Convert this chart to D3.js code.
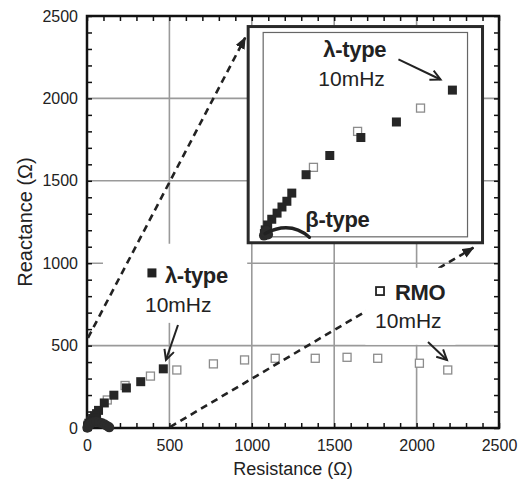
<!DOCTYPE html>
<html>
<head>
<meta charset="utf-8">
<script src="https://cdn.jsdelivr.net/npm/d3@7"></script>
<style>
  body { margin: 0; background: #fff; }
  text { font-family: "Liberation Sans", Arial, sans-serif; fill: #222; }
</style>
</head>
<body>
<div id="container"></div>
<script>
/* CONSTANTS AND GLOBALS */
const width = 522,
  height = 481,
  margin = { top: 16, bottom: 53, left: 87, right: 23 };

// λ-type, filled squares (Resistance, Reactance in Ω)
const lambdaR = [463, 326, 239, 163, 105, 70, 58, 46, 34, 21, 11, 5, 3];
const lambdaX = [359, 281, 243, 199, 152, 107, 87, 73, 58, 43, 29, 17, 8];

// RMO, open squares
const rmoR = [123, 231, 385, 545, 767, 956, 1142, 1385, 1578, 1764, 2017, 2189];
const rmoX = [170, 258, 315, 352, 389, 413, 423, 423, 429, 423, 393, 352];

// β-type, filled circles (main plot and as seen in the inset)
const betaR = [2, 8, 16, 28, 42, 58, 75, 92, 108, 122, 135];
const betaX = [2, 12, 22, 30, 35, 36, 34, 29, 21, 12, 4];
const betaInsetR = [2, 5, 8, 12];
const betaInsetX = [3, 10, 14, 6];

// axis ticks
const majorTicks = [0, 500, 1000, 1500, 2000, 2500];
const gridTicks = [500, 1000, 1500, 2000];
const minorTicks = d3.range(0, 2501, 100);

// inset window, in main plot units: [R0, R1, X0, X1]
const insetOuter = [978, 2400, 1124, 2436];
const insetInner = [1069, 2309, 1160, 2400];
const insetDomain = [0, 500];

let svg, xScale, yScale, ixScale, iyScale;

init();

function init() {
  // + SCALES
  xScale = d3.scaleLinear().domain([0, 2500]).range([margin.left, width - margin.right]);
  yScale = d3.scaleLinear().domain([0, 2500]).range([height - margin.bottom, margin.top]);
  ixScale = d3.scaleLinear().domain(insetDomain).range([xScale(insetInner[0]), xScale(insetInner[1])]);
  iyScale = d3.scaleLinear().domain(insetDomain).range([yScale(insetInner[2]), yScale(insetInner[3])]);

  svg = d3.select("#container")
    .append("svg")
    .attr("width", width)
    .attr("height", height);

  const defs = svg.append("defs");
  defs.append("marker")
    .attr("id", "headFill")
    .attr("markerUnits", "userSpaceOnUse")
    .attr("markerWidth", 12).attr("markerHeight", 10)
    .attr("refX", 11).attr("refY", 5)
    .attr("orient", "auto")
    .append("path").attr("d", "M0,0 L12,5 L0,10 Z").attr("fill", "#222");
  defs.append("marker")
    .attr("id", "headOpen")
    .attr("markerUnits", "userSpaceOnUse")
    .attr("markerWidth", 14).attr("markerHeight", 14)
    .attr("refX", 11).attr("refY", 6)
    .attr("orient", "auto")
    .append("path").attr("d", "M1,1 L11,6 L1,11").attr("fill", "none")
    .attr("stroke", "#222").attr("stroke-width", 2);

  draw();
}

function draw() {
  const x0 = xScale(0), x1 = xScale(2500), y0 = yScale(0), y1 = yScale(2500);

  // + GRID
  svg.append("g").selectAll("line.v")
    .data(gridTicks).join("line")
    .attr("x1", d => xScale(d)).attr("x2", d => xScale(d))
    .attr("y1", y0).attr("y2", y1)
    .attr("stroke", "#9a9a9a").attr("stroke-width", 1.6);
  svg.append("g").selectAll("line.h")
    .data(gridTicks).join("line")
    .attr("x1", x0).attr("x2", x1)
    .attr("y1", d => yScale(d)).attr("y2", d => yScale(d))
    .attr("stroke", "#9a9a9a").attr("stroke-width", 1.6);

  // + MINOR TICKS (inward, all four sides)
  const tickSide = (axis, transform) => {
    svg.append("g")
      .attr("transform", transform)
      .call(axis.tickValues(minorTicks).tickSize(5).tickFormat(""))
      .call(g => g.select(".domain").remove())
      .call(g => g.selectAll("line").attr("stroke", "#111").attr("stroke-width", 1.5));
  };
  tickSide(d3.axisTop(xScale), `translate(0,${y0})`);
  tickSide(d3.axisBottom(xScale), `translate(0,${y1})`);
  tickSide(d3.axisRight(yScale), `translate(${x0},0)`);
  tickSide(d3.axisLeft(yScale), `translate(${x1},0)`);

  // + TICK LABELS
  svg.append("g")
    .attr("transform", `translate(0,${y0})`)
    .call(d3.axisBottom(xScale).tickValues(majorTicks).tickFormat(d3.format("d")).tickSize(0).tickPadding(12))
    .call(g => g.select(".domain").remove())
    .call(g => g.selectAll("text").attr("font-size", 16).attr("font-family", null).attr("fill", "#222"));
  svg.append("g")
    .attr("transform", `translate(${x0},0)`)
    .call(d3.axisLeft(yScale).tickValues(majorTicks).tickFormat(d3.format("d")).tickSize(0).tickPadding(9))
    .call(g => g.select(".domain").remove())
    .call(g => g.selectAll("text").attr("font-size", 16).attr("font-family", null).attr("fill", "#222"));

  // + AXIS TITLES
  svg.append("text")
    .attr("x", (x0 + x1) / 2).attr("y", height - 6)
    .attr("text-anchor", "middle").attr("font-size", 18)
    .text("Resistance (Ω)");
  svg.append("text")
    .attr("transform", `translate(32,${(y0 + y1) / 2}) rotate(-90)`)
    .attr("text-anchor", "middle").attr("font-size", 20)
    .text("Reactance (Ω)");

  // + FRAME
  svg.append("rect")
    .attr("x", x0).attr("y", y1)
    .attr("width", x1 - x0).attr("height", y0 - y1)
    .attr("fill", "none").attr("stroke", "#111").attr("stroke-width", 2.5);

  // + MAIN DATA
  plotSeries(svg.append("g"), xScale, yScale, betaR, betaX);

  // + λ LABEL BACKGROUND, then dashed zoom lines
  whiteBox(97, 972, 638, 1118);
  dashed([6, 547], [960, 2369]);
  dashed([504, 6], [2345, 1094]);
  whiteBox(1689, 2236, 505, 972);

  // + INSET
  svg.append("rect")
    .attr("x", xScale(insetOuter[0])).attr("y", yScale(insetOuter[3]))
    .attr("width", xScale(insetOuter[1]) - xScale(insetOuter[0]))
    .attr("height", yScale(insetOuter[2]) - yScale(insetOuter[3]))
    .attr("fill", "#fff").attr("stroke", "#2a2a2a").attr("stroke-width", 3);
  svg.append("rect")
    .attr("x", ixScale(0)).attr("y", iyScale(500))
    .attr("width", ixScale(500) - ixScale(0))
    .attr("height", iyScale(0) - iyScale(500))
    .attr("fill", "none").attr("stroke", "#666").attr("stroke-width", 1.2);
  const inRange = (r, x) => r <= 500 && x <= 500;
  plotSeries(svg.append("g"), ixScale, iyScale, betaInsetR, betaInsetX, inRange);

  // + ANNOTATIONS: main plot
  svg.append("rect")
    .attr("x", xScale(394) - 4.5).attr("y", yScale(941) - 4.5)
    .attr("width", 9).attr("height", 9).attr("fill", "#222");
  label(xScale(473), yScale(880), "λ-type", true);
  label(xScale(352), yScale(704), "10mHz", false);
  arrow(xScale, yScale, [552, 625], [479, 413]);

  svg.append("rect")
    .attr("x", xScale(1778) - 4).attr("y", yScale(831) - 4)
    .attr("width", 8).attr("height", 8)
    .attr("fill", "none").attr("stroke", "#222").attr("stroke-width", 1.8);
  label(xScale(1869), yScale(777), "RMO", true);
  label(xScale(1748), yScale(607), "10mHz", false);
  arrow(xScale, yScale, [2069, 522], [2184, 413]);

  // + ANNOTATIONS: inset
  label(ixScale(147), iyScale(439), "λ-type", true);
  label(ixScale(135), iyScale(368), "10mHz", false);
  arrow(ixScale, iyScale, [331, 434], [434, 385]);
  label(ixScale(103), iyScale(25), "β-type", true);
  svg.append("path")
    .attr("d", `M${ixScale(113)},${iyScale(-1)} Q${ixScale(66)},${iyScale(40)} ${ixScale(5)},${iyScale(8)}`)
    .attr("fill", "none").attr("stroke", "#222").attr("stroke-width", 3.5)
    .attr("stroke-linecap", "round");
}

function plotSeries(g, xs, ys, bR, bX, keep = () => true) {
  const sq = 9;
  const rmo = rmoR.map((r, i) => ({ r, x: rmoX[i] })).filter(d => keep(d.r, d.x));
  const lam = lambdaR.map((r, i) => ({ r, x: lambdaX[i] })).filter(d => keep(d.r, d.x));
  const beta = bR.map((r, i) => ({ r, x: bX[i] }));

  g.selectAll("rect.rmo")
    .data(rmo).join("rect")
    .attr("class", "rmo")
    .attr("x", d => xs(d.r) - sq / 2 + 0.5).attr("y", d => ys(d.x) - sq / 2 + 0.5)
    .attr("width", sq - 1).attr("height", sq - 1)
    .attr("fill", "#fff").attr("stroke", "#8c8c8c").attr("stroke-width", 1.3);

  g.selectAll("rect.lam")
    .data(lam).join("rect")
    .attr("class", "lam")
    .attr("x", d => xs(d.r) - sq / 2).attr("y", d => ys(d.x) - sq / 2)
    .attr("width", sq).attr("height", sq)
    .attr("fill", "#262626");

  g.selectAll("circle")
    .data(beta).join("circle")
    .attr("cx", d => xs(d.r)).attr("cy", d => ys(d.x))
    .attr("r", 5)
    .attr("fill", "#2b2b2b");
}

function whiteBox(r0, r1, v0, v1) {
  svg.append("rect")
    .attr("x", xScale(r0)).attr("y", yScale(v1))
    .attr("width", xScale(r1) - xScale(r0))
    .attr("height", yScale(v0) - yScale(v1))
    .attr("fill", "#fff");
}

function dashed(a, b) {
  svg.append("line")
    .attr("x1", xScale(a[0])).attr("y1", yScale(a[1]))
    .attr("x2", xScale(b[0])).attr("y2", yScale(b[1]))
    .attr("stroke", "#222").attr("stroke-width", 2.6)
    .attr("stroke-dasharray", "7,5")
    .attr("marker-end", "url(#headFill)");
}

function arrow(xs, ys, a, b) {
  svg.append("line")
    .attr("x1", xs(a[0])).attr("y1", ys(a[1]))
    .attr("x2", xs(b[0])).attr("y2", ys(b[1]))
    .attr("stroke", "#222").attr("stroke-width", 2)
    .attr("marker-end", "url(#headOpen)");
}

function label(x, y, txt, bold) {
  svg.append("text")
    .attr("x", x).attr("y", y)
    .attr("font-size", bold ? 22 : 21)
    .attr("font-weight", bold ? "bold" : "normal")
    .attr("letter-spacing", bold ? -0.3 : 0)
    .text(txt);
}
</script>
</body>
</html>
